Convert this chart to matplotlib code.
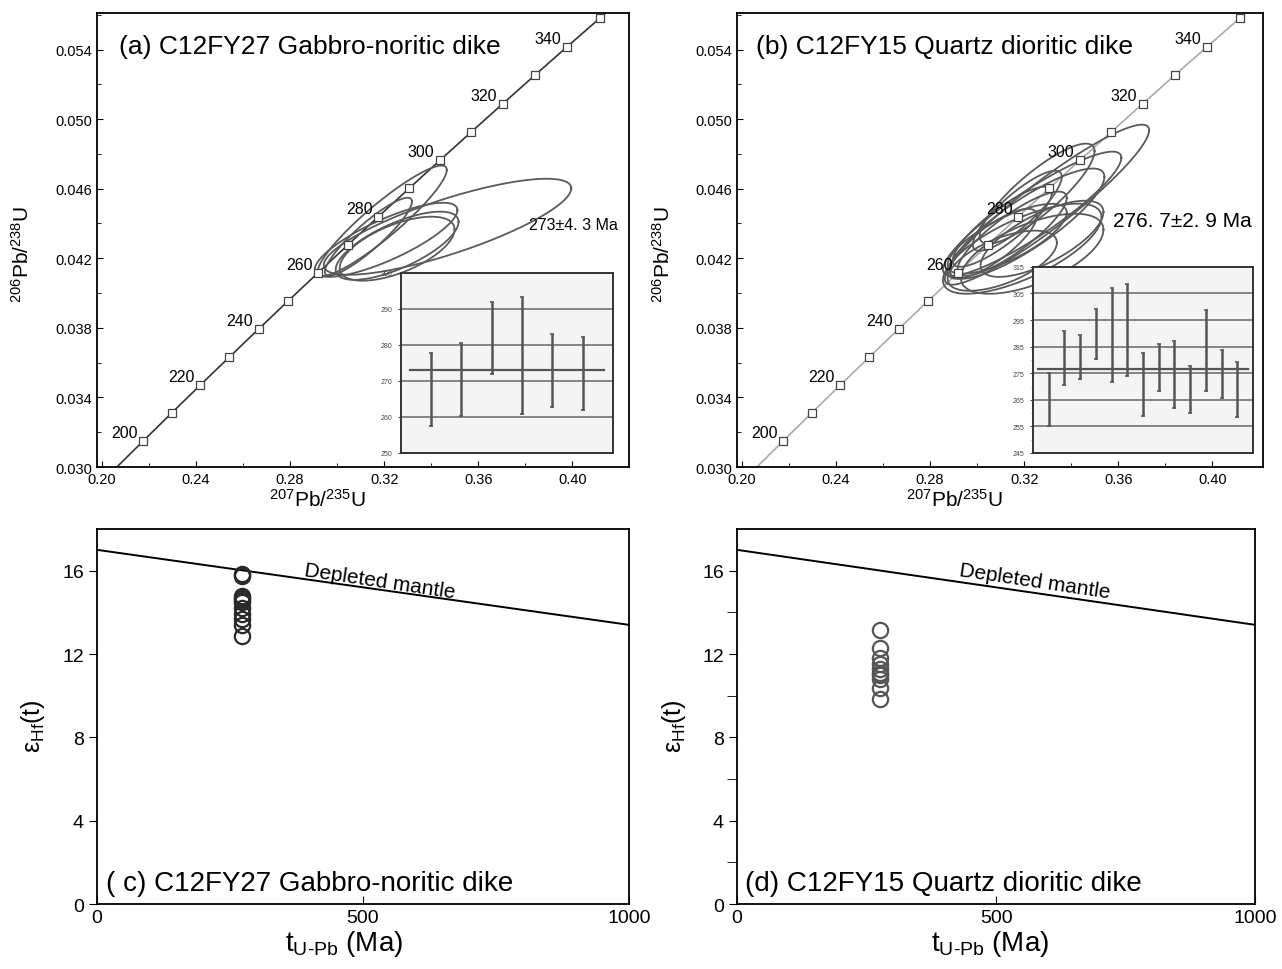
import numpy as np
import matplotlib.pyplot as plt
from matplotlib.ticker import FixedLocator, FormatStrFormatter

plt.rcParams['font.family'] = ['Liberation Sans', 'DejaVu Sans']
plt.rcParams['mathtext.default'] = 'regular'

# decay constants for the concordia curve
L238 = 1.55125e-10
L235 = 9.8485e-10

conc_ages = np.arange(200, 360, 10)
conc_label_ages = np.arange(200, 360, 20)

# (a) C12FY27 ellipses: centre, half-width, correlation
a_x0 = [0.3192, 0.3469, 0.3208, 0.3255, 0.3133, 0.3255]
a_sx = [0.0274, 0.0526, 0.0303, 0.0261, 0.0185, 0.0244]
a_y0 = [0.04416, 0.04381, 0.04306, 0.04272, 0.04324, 0.04255]
a_sy = [0.00317, 0.00276, 0.00213, 0.00196, 0.00224, 0.00184]
a_rho = [0.92, 0.80, 0.80, 0.70, 0.90, 0.60]

# (b) C12FY15 ellipses
b_x0 = [0.3297, 0.3234, 0.3213, 0.3234, 0.3192, 0.3149, 0.3107,
        0.3171, 0.3255, 0.3065, 0.3107, 0.3128, 0.3276]
b_sx = [0.0434, 0.0379, 0.0328, 0.0303, 0.0337, 0.0232, 0.0211,
        0.0189, 0.0244, 0.0189, 0.0232, 0.0253, 0.0261]
b_y0 = [0.04508, 0.04456, 0.04399, 0.04226, 0.04255, 0.04341, 0.04381,
        0.04473, 0.04571, 0.04283, 0.04186, 0.04312, 0.04312]
b_sy = [0.00460, 0.00357, 0.00317, 0.00230, 0.00259, 0.00242, 0.00230,
        0.00230, 0.00288, 0.00201, 0.00173, 0.00201, 0.00219]
b_rho = [0.93, 0.90, 0.85, 0.60, 0.70, 0.85, 0.85, 0.85, 0.85, 0.80, 0.60, 0.75, 0.70]

# inset weighted-mean ages (error bar top / bottom, Ma)
a_age_hi = [277.9, 280.6, 292.0, 293.2, 283.0, 282.3]
a_age_lo = [257.5, 260.2, 271.8, 260.9, 262.8, 262.0]
a_mean = 273.0
b_age_hi = [275.2, 290.8, 289.3, 299.3, 306.9, 308.6, 282.6,
            286.0, 287.3, 277.6, 298.8, 283.6, 279.1]
b_age_lo = [255.0, 270.6, 273.0, 280.3, 271.6, 274.0, 259.0,
            268.3, 262.0, 259.9, 268.3, 265.8, 258.4]
b_mean = 276.7

# Hf isotopes
c_age = 273.0
c_ehf = [15.85, 15.75, 14.8, 14.7, 14.6, 14.5, 14.2, 13.9, 13.7, 13.4, 12.85]
d_age = 276.7
d_ehf = [13.15, 12.3, 11.8, 11.5, 11.3, 11.1, 11.0, 10.8, 10.35, 9.85]

dm_t = [0, 1000]
dm_e = [17.0, 13.4]


def concordia(ax, line_color):
    t = np.linspace(180, 370, 300) * 1e6
    ax.plot(np.exp(L235 * t) - 1, np.exp(L238 * t) - 1, color=line_color, lw=1.2, zorder=2)
    tm = conc_ages * 1e6
    ax.plot(np.exp(L235 * tm) - 1, np.exp(L238 * tm) - 1, 's', ms=6,
            mfc='white', mec='#444', mew=0.9, zorder=4)
    for age in conc_label_ages:
        x = np.exp(L235 * age * 1e6) - 1
        y = np.exp(L238 * age * 1e6) - 1
        ax.annotate(str(age), (x, y), xytext=(-4, 6), textcoords='offset points',
                    ha='right', va='center', fontsize=11.5, zorder=5)


def ellipses(ax, x0s, sxs, y0s, sys, rhos):
    th = np.linspace(0, 2 * np.pi, 200)
    for x0, sx, y0, sy, r in zip(x0s, sxs, y0s, sys, rhos):
        ex = x0 + sx * np.cos(th)
        ey = y0 + sy * (r * np.cos(th) + np.sqrt(1 - r * r) * np.sin(th))
        ax.plot(ex, ey, color='#5a5a5a', lw=1.3, zorder=3)


def top_axes(ax, xmax):
    ax.set_xlim(0.198, xmax)
    ax.set_ylim(0.030, 0.0561)
    ax.xaxis.set_major_locator(FixedLocator(np.arange(0.20, 0.41, 0.04)))
    ax.xaxis.set_minor_locator(FixedLocator(np.arange(0.22, 0.42, 0.04)))
    ax.yaxis.set_major_locator(FixedLocator(np.arange(0.030, 0.0561, 0.004)))
    ax.yaxis.set_minor_locator(FixedLocator(np.arange(0.032, 0.0561, 0.004)))
    ax.xaxis.set_major_formatter(FormatStrFormatter('%.2f'))
    ax.yaxis.set_major_formatter(FormatStrFormatter('%.3f'))
    ax.tick_params(which='both', direction='in', labelsize=10.5)
    ax.tick_params(which='major', length=4)
    ax.tick_params(which='minor', length=3)
    for s in ax.spines.values():
        s.set_linewidth(1.3)
    ax.set_xlabel('$^{207}$Pb/$^{235}$U', fontsize=15)
    ax.set_ylabel('$^{206}$Pb/$^{238}$U', fontsize=15)
    ax.xaxis.set_label_coords(0.414, -0.046, transform=ax.transAxes)
    ax.yaxis.set_label_coords(-0.12, 0.47, transform=ax.transAxes)


def inset(rect, hi, lo, mean, ylo, yhi, step, grid, nx):
    ax = fig.add_axes(rect)
    ax.set_facecolor('#f4f4f4')
    for g in grid:
        ax.axhline(g, color='#666', lw=1.1, zorder=1)
    xs = np.arange(1, len(hi) + 1)
    hi = np.array(hi)
    lo = np.array(lo)
    ax.vlines(xs, lo, hi, color='#555', lw=1.8, zorder=3)
    ax.plot(xs, hi, '_', color='#555', ms=3, mew=1.2, zorder=3)
    ax.plot(xs, lo, '_', color='#555', ms=3, mew=1.2, zorder=3)
    ax.plot([0.3, nx - 0.3], [mean, mean], color='#555', lw=1.6, zorder=2)
    ax.set_xlim(0, nx)
    ax.set_ylim(ylo, yhi)
    ax.set_xticks([])
    ax.set_yticks(np.arange(ylo, yhi + 0.1, step))
    ax.tick_params(labelsize=5, length=2, colors='#444', pad=4)
    for s in ax.spines.values():
        s.set_linewidth(1.4)
        s.set_color('#333')
    return ax


def bottom_axes(ax, circ, age, edge, label, minor, dm_xy, xlab_x):
    ax.plot(dm_t, dm_e, color='black', lw=1.4)
    ax.text(dm_xy[0], dm_xy[1], 'Depleted mantle', fontsize=15, rotation=-8.5,
            ha='center', va='center')
    ax.plot([age] * len(circ), circ, 'o', ms=11, mfc='none', mec=edge, mew=1.6)
    ax.set_xlim(0, 1000)
    ax.set_ylim(0, 18)
    ax.set_xticks([0, 500, 1000])
    ax.set_yticks([0, 4, 8, 12, 16])
    if minor:
        ax.set_yticks([2, 6, 10, 14], minor=True)
    ax.tick_params(axis='x', direction='in', length=6, labelsize=14)
    ax.tick_params(axis='y', direction='out', length=6, labelsize=14)
    ax.tick_params(which='minor', axis='y', direction='out', length=7)
    for s in ax.spines.values():
        s.set_linewidth(1.3)
    ax.set_xlabel('t$_{U\u2010Pb}$ (Ma)', fontsize=20)
    ax.set_ylabel('ε$_{Hf}$(t)', fontsize=18)
    ax.xaxis.set_label_coords(xlab_x, -0.065, transform=ax.transAxes)
    ax.yaxis.set_label_coords(-0.094, 0.477, transform=ax.transAxes)
    ax.text(16, 1.0, label, fontsize=20, ha='left', va='center')


fig = plt.figure(figsize=(12.82, 9.70), dpi=100)

ax_a = fig.add_axes([0.0757, 0.5175, 0.4149, 0.4681])
concordia(ax_a, '#333333')
ellipses(ax_a, a_x0, a_sx, a_y0, a_sy, a_rho)
top_axes(ax_a, 0.424)
ax_a.text(0.2075, 0.05423, '(a) C12FY27 Gabbro-noritic dike', fontsize=19, va='center')
ax_a.text(0.3815, 0.04393, '273±4. 3 Ma', fontsize=11.5, va='center')

ax_b = fig.add_axes([0.5749, 0.5175, 0.4103, 0.4681])
concordia(ax_b, '#aaaaaa')
ellipses(ax_b, b_x0, b_sx, b_y0, b_sy, b_rho)
top_axes(ax_b, 0.4215)
ax_b.text(0.206, 0.05423, '(b) C12FY15 Quartz dioritic dike', fontsize=19, va='center')
ax_b.text(0.3579, 0.04418, '276. 7±2. 9 Ma', fontsize=15, va='center')

inset([0.3126, 0.5320, 0.1654, 0.1856], a_age_hi, a_age_lo, a_mean,
      250, 300, 10, [260, 270, 280, 290], 7)
ins_b = inset([0.8058, 0.5320, 0.1716, 0.1918], b_age_hi, b_age_lo, b_mean,
              245, 315, 10, [255, 265, 275, 285, 295, 305], 14)
ins_b.set_yticks(np.arange(250, 315, 10), minor=True)
ins_b.tick_params(which='minor', length=1.5, colors='#888')

ax_c = fig.add_axes([0.0757, 0.0670, 0.4149, 0.3866])
bottom_axes(ax_c, c_ehf, c_age, '#2a2a2a', '( c) C12FY27 Gabbro-noritic dike', False,
            (532, 15.5), 0.464)

ax_d = fig.add_axes([0.5749, 0.0670, 0.4041, 0.3866])
bottom_axes(ax_d, d_ehf, d_age, '#555555', '(d) C12FY15 Quartz dioritic dike', True,
            (575, 15.5), 0.489)

fig.savefig('out.png', dpi=100)
